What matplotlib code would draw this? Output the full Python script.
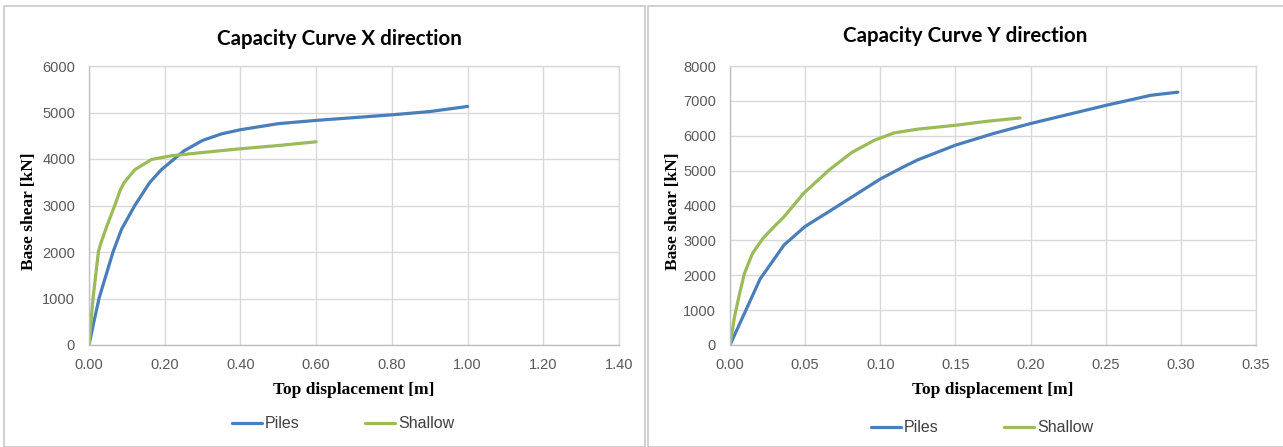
import matplotlib
matplotlib.use("Agg")
import matplotlib.pyplot as plt
from matplotlib.patches import Rectangle

# Capacity curve X direction
x_piles_X = [0, 0.013, 0.0264, 0.0634, 0.086, 0.121, 0.160, 0.191, 0.225, 0.25, 0.30, 0.35, 0.40, 0.50, 0.60, 0.70, 0.80, 0.90, 1.00]
v_piles_X = [0, 500, 1000, 2000, 2490, 3000, 3490, 3770, 4000, 4170, 4400, 4540, 4630, 4760, 4830, 4890, 4950, 5020, 5130]
x_shallow_X = [0, 0.0106, 0.0248, 0.030, 0.0486, 0.068, 0.082, 0.0925, 0.121, 0.165, 0.218, 0.30, 0.40, 0.50, 0.60]
v_shallow_X = [0, 1000, 2000, 2160, 2590, 3000, 3320, 3490, 3770, 3990, 4070, 4140, 4220, 4290, 4370]

# Capacity curve Y direction
x_piles_Y = [0, 0.02, 0.036, 0.05, 0.066, 0.081, 0.10, 0.116, 0.125, 0.15, 0.175, 0.20, 0.25, 0.28, 0.298]
v_piles_Y = [0, 1890, 2870, 3400, 3830, 4240, 4760, 5120, 5310, 5730, 6060, 6350, 6870, 7160, 7250]
x_shallow_Y = [0, 0.003, 0.0064, 0.0096, 0.015, 0.022, 0.029, 0.036, 0.049, 0.066, 0.081, 0.096, 0.109, 0.125, 0.15, 0.17, 0.193]
v_shallow_Y = [0, 810, 1480, 2050, 2630, 3060, 3380, 3680, 4350, 5020, 5520, 5870, 6080, 6190, 6300, 6410, 6510]

xticks_X = [0, 0.2, 0.4, 0.6, 0.8, 1.0, 1.2, 1.4]
yticks_X = [0, 1000, 2000, 3000, 4000, 5000, 6000]
xticks_Y = [0, 0.05, 0.10, 0.15, 0.20, 0.25, 0.30, 0.35]
yticks_Y = [0, 1000, 2000, 3000, 4000, 5000, 6000, 7000, 8000]

BLUE = "#4a7ebb"
GREEN = "#9bbb59"
GRID = "#d9d9d9"
AXIS = "#bfbfbf"
TICK_FONT = ["Liberation Sans", "DejaVu Sans"]
TITLE_FONT = ["Lato", "DejaVu Sans"]
LABEL_FONT = ["Liberation Serif", "DejaVu Serif"]

W, H = 1283, 447
fig = plt.figure(figsize=(W / 100, H / 100), dpi=100)
fig.patch.set_facecolor("white")

# panel frames (like two Excel chart boxes)
fig.patches.append(Rectangle((4 / W, 0), 641 / W, (H - 10) / H + 0.01, transform=fig.transFigure,
                             fill=False, edgecolor="#c8c8c8", lw=1.2))
fig.patches.append(Rectangle((648 / W, 0), 640 / W, (H - 10) / H + 0.01, transform=fig.transFigure,
                             fill=False, edgecolor="#c8c8c8", lw=1.2))


def make_panel(left, right, xp, vp, xs, vs, xticks, yticks, title, title_pos,
               ylab_x, leg_pos):
    ax = fig.add_axes([left / W, (H - 345) / H, (right - left) / W, 279 / H])
    ax.plot(xp, vp, color=BLUE, lw=2.3, label="Piles", solid_capstyle="round",
            solid_joinstyle="round")
    ax.plot(xs, vs, color=GREEN, lw=2.3, label="Shallow", solid_capstyle="round",
            solid_joinstyle="round")
    ax.set_xlim(xticks[0], xticks[-1])
    ax.set_ylim(yticks[0], yticks[-1])
    ax.set_xticks(xticks)
    ax.set_yticks(yticks)
    ax.set_xticklabels(["%.2f" % t for t in xticks])
    ax.set_yticklabels([str(t) for t in yticks])
    ax.grid(True, color=GRID, lw=1.0)
    ax.set_axisbelow(True)
    for s in ["top", "right"]:
        ax.spines[s].set_color(GRID)
        ax.spines[s].set_linewidth(1.0)
    for s in ["left", "bottom"]:
        ax.spines[s].set_color(AXIS)
        ax.spines[s].set_linewidth(1.0)
    ax.tick_params(length=0, labelsize=10.5, colors="#595959")
    ax.tick_params(axis="y", pad=10)
    ax.tick_params(axis="x", pad=9.5)
    for lab in ax.get_xticklabels() + ax.get_yticklabels():
        lab.set_family(TICK_FONT)

    fig.text(title_pos[0] / W, 1 - title_pos[1] / H, title, ha="center", va="center",
             fontsize=14.8, fontweight="bold", family=TITLE_FONT, color="black")
    fig.text((left + right) / 2 / W, 1 - 390 / H, "Top displacement [m]", ha="center",
             va="center", fontsize=12.5, fontweight="bold", family=LABEL_FONT)
    fig.text(ylab_x / W, 1 - 211 / H, "Base shear [kN]", ha="center", va="center",
             rotation=90, fontsize=12.5, fontweight="bold", family=LABEL_FONT)

    leg = ax.legend(loc="center", bbox_to_anchor=(leg_pos[0] / W, 1 - leg_pos[1] / H),
                    bbox_transform=fig.transFigure, ncol=2, frameon=False,
                    handlelength=1.9, handletextpad=0.15, columnspacing=4.1,
                    prop={"family": TICK_FONT, "size": 11.5})
    for t in leg.get_texts():
        t.set_color("#404040")
    return ax


make_panel(89, 619, x_piles_X, v_piles_X, x_shallow_X, v_shallow_X, xticks_X, yticks_X,
           "Capacity Curve X direction", (339, 39), 29, (343, 424))
make_panel(730, 1256, x_piles_Y, v_piles_Y, x_shallow_Y, v_shallow_Y, xticks_Y, yticks_Y,
           "Capacity Curve Y direction", (965, 36), 673, (982, 428))

fig.savefig("out.png", dpi=100)
